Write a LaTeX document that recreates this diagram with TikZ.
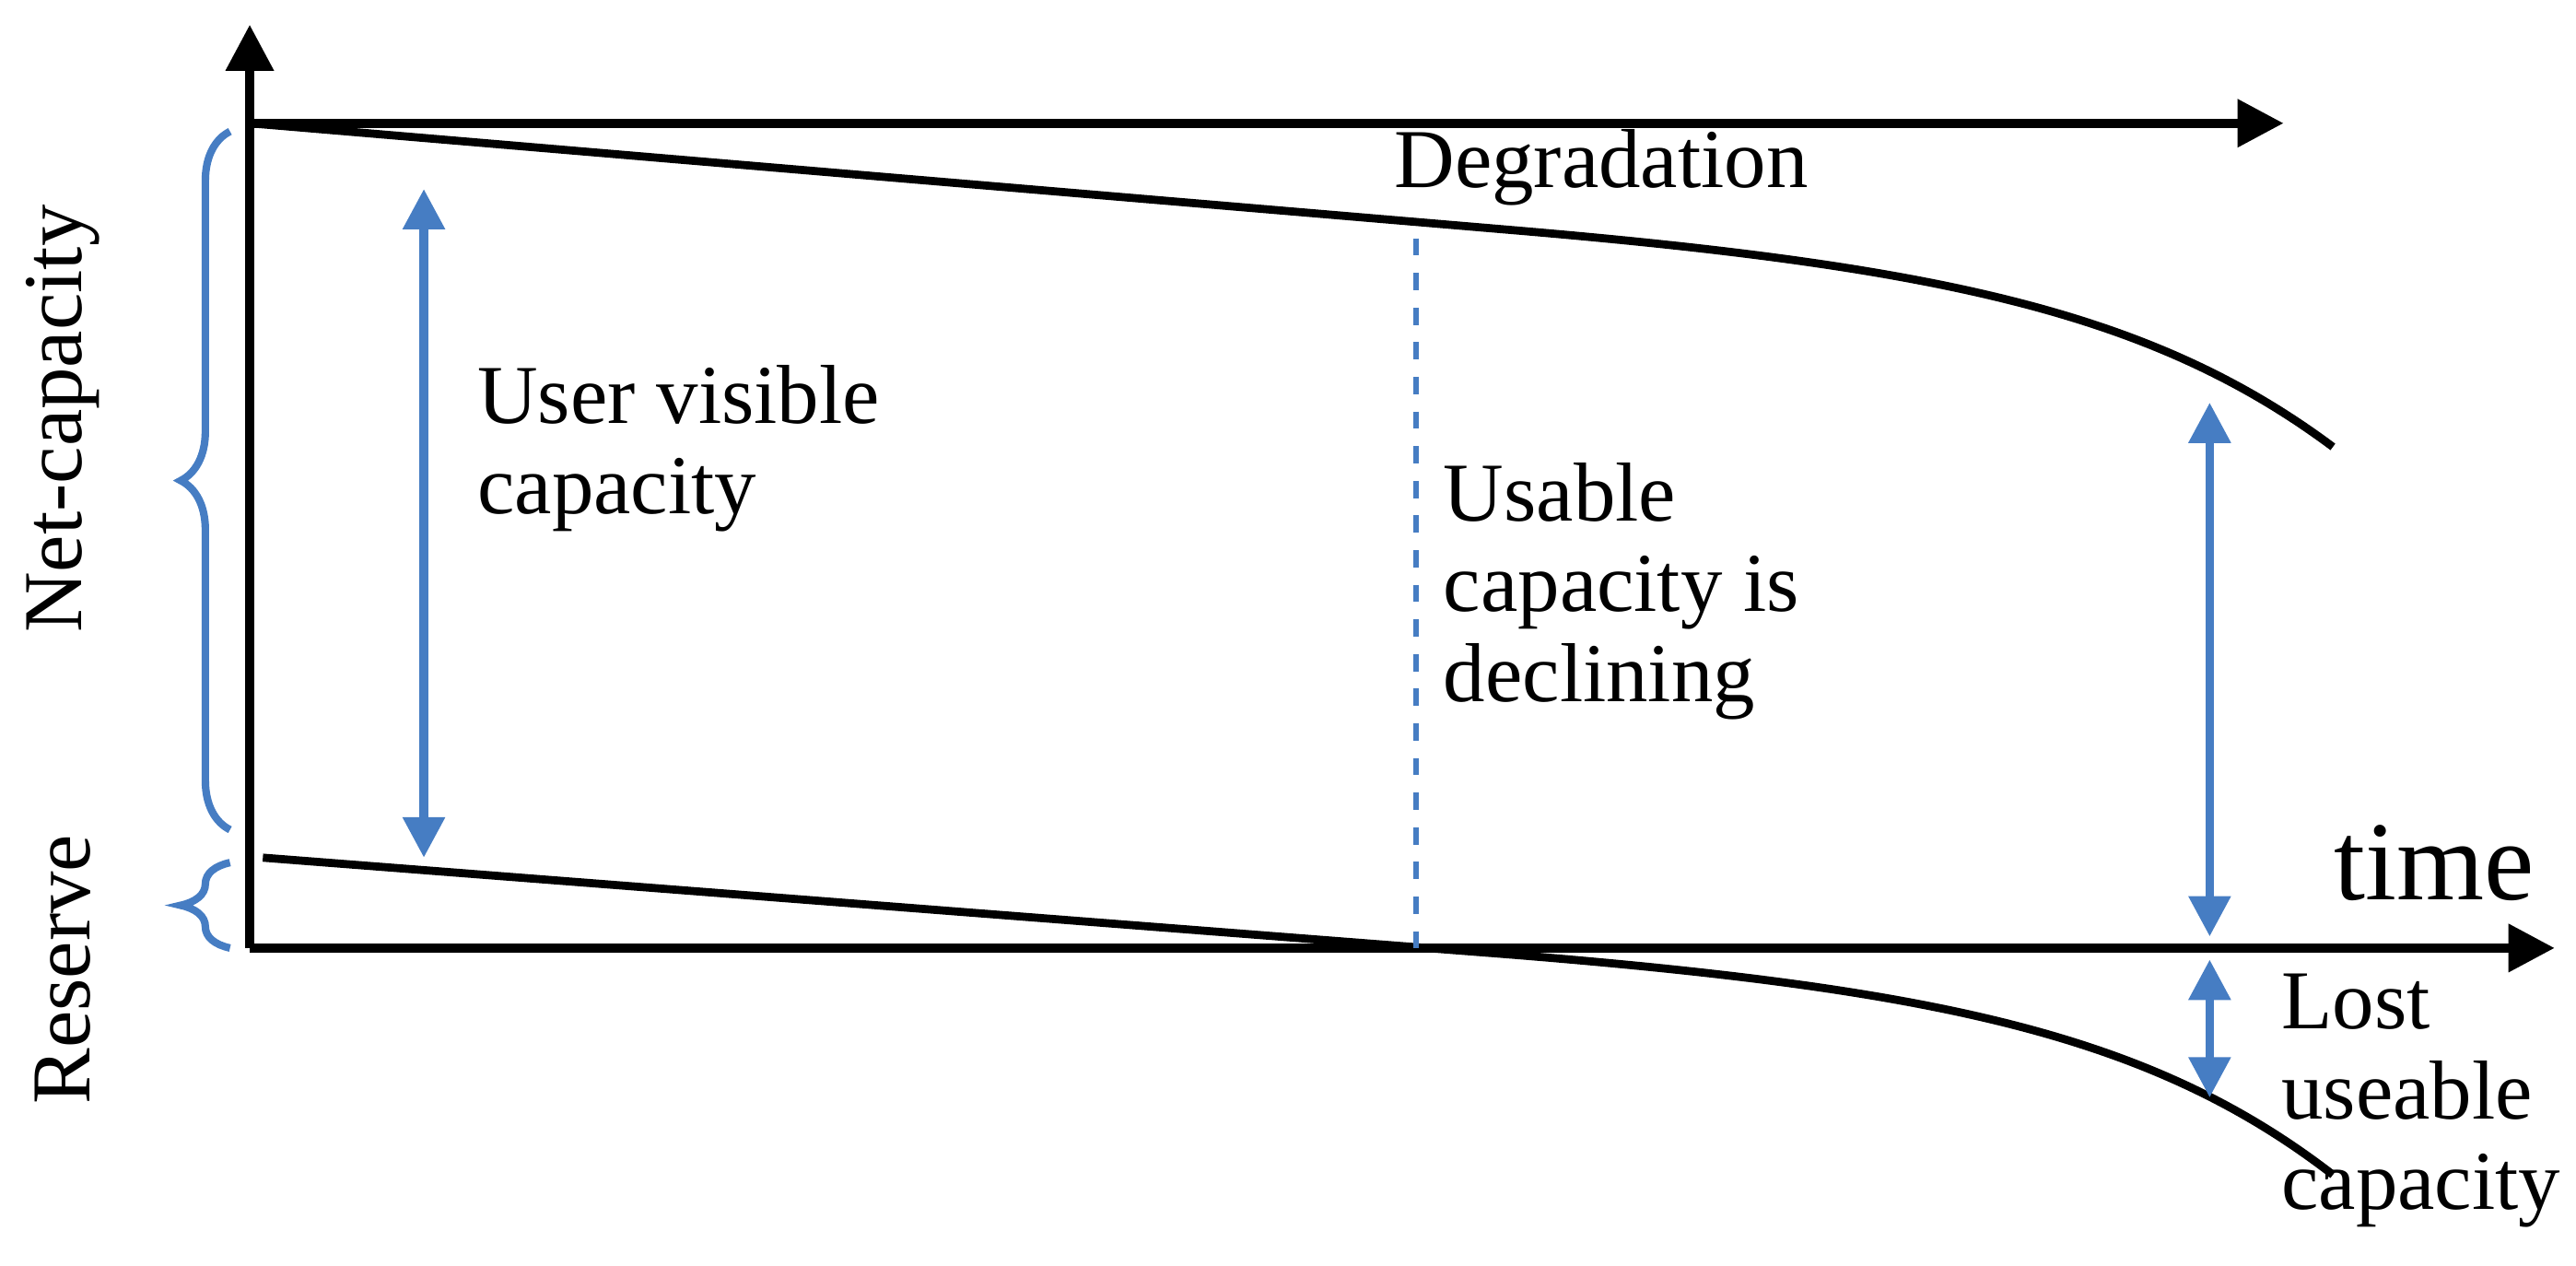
\documentclass[tikz,border=0pt]{standalone}
\usepackage{fontspec}
\setmainfont{Liberation Serif}
\usetikzlibrary{arrows.meta,decorations.pathreplacing}
\definecolor{bl}{RGB}{70,125,195}
\begin{document}
\begin{tikzpicture}[x=1cm,y=1cm,
  ax/.style={line width=1.6pt,-{Triangle[length=8pt,width=8pt]}},
  curve/.style={line width=1.4pt},
  barr/.style={bl,line width=1.5pt,{Triangle[length=7pt,width=7pt]}-{Triangle[length=7pt,width=7pt]}},
  lbl/.style={font=\fontsize{14.5}{15.6}\selectfont,align=left,anchor=west,inner sep=0pt},
  br/.style={bl,line width=1.3pt,decorate,decoration={brace,amplitude=0.3cm}}]
\useasboundingbox (0,0) rectangle (15.68,7.70);
\coordinate (O) at (1.52,1.93);
\coordinate (Ytop) at (1.52,7.55);
\coordinate (Xend) at (15.55,1.93);
\coordinate (T0) at (1.52,6.95);
\coordinate (T1) at (13.9,6.95);
\coordinate (B0) at (1.6,2.48);
\draw[ax] (O) -- (Ytop);
\draw[ax] (O) -- (Xend);
\draw[ax] (T0) -- (T1);
\draw[curve] (T0) -- (9.2,6.3) .. controls (11.8,6.08) and (13.1,5.8) .. (14.2,4.98);
\draw[curve] (B0) -- (9.2,1.89) .. controls (11.8,1.68) and (13.1,1.4) .. (14.2,0.55);
\coordinate (D0) at (8.62,6.25);
\coordinate (D1) at (8.62,1.93);
\draw[bl,dashed,line width=1pt] (D0) -- (D1);
\coordinate (A0) at (2.58,6.55);
\coordinate (A1) at (2.58,2.48);
\draw[barr] (A0) -- (A1);
\coordinate (C0) at (13.45,5.25);
\coordinate (C1) at (13.45,2.0);
\draw[barr] (C0) -- (C1);
\coordinate (E0) at (13.45,1.86);
\coordinate (E1) at (13.45,1.02);
\draw[barr] (E0) -- (E1);
\node[lbl] (deg) at (8.48,6.68) {Degradation};
\node[lbl] (uvc) at (2.9,4.97) {User visible\\capacity};
\node[lbl] (ucd) at (8.78,4.1) {Usable\\capacity is\\declining};
\node[lbl,font=\fontsize{19.5}{22}\selectfont] (time) at (14.2,2.45) {time};
\node[lbl] (luc) at (13.88,1.0) {Lost\\useable\\capacity};
\coordinate (N0) at (1.4,2.65);
\coordinate (N1) at (1.4,6.9);
\draw[br] (N0) -- (N1);
\coordinate (R0) at (1.4,1.93);
\coordinate (R1) at (1.4,2.45);
\draw[br] (R0) -- (R1);
\node[lbl,anchor=center,rotate=90] (net) at (0.38,5.15) {Net-capacity};
\node[lbl,anchor=center,rotate=90] (res) at (0.38,1.8) {Reserve};
\end{tikzpicture}
\end{document}
